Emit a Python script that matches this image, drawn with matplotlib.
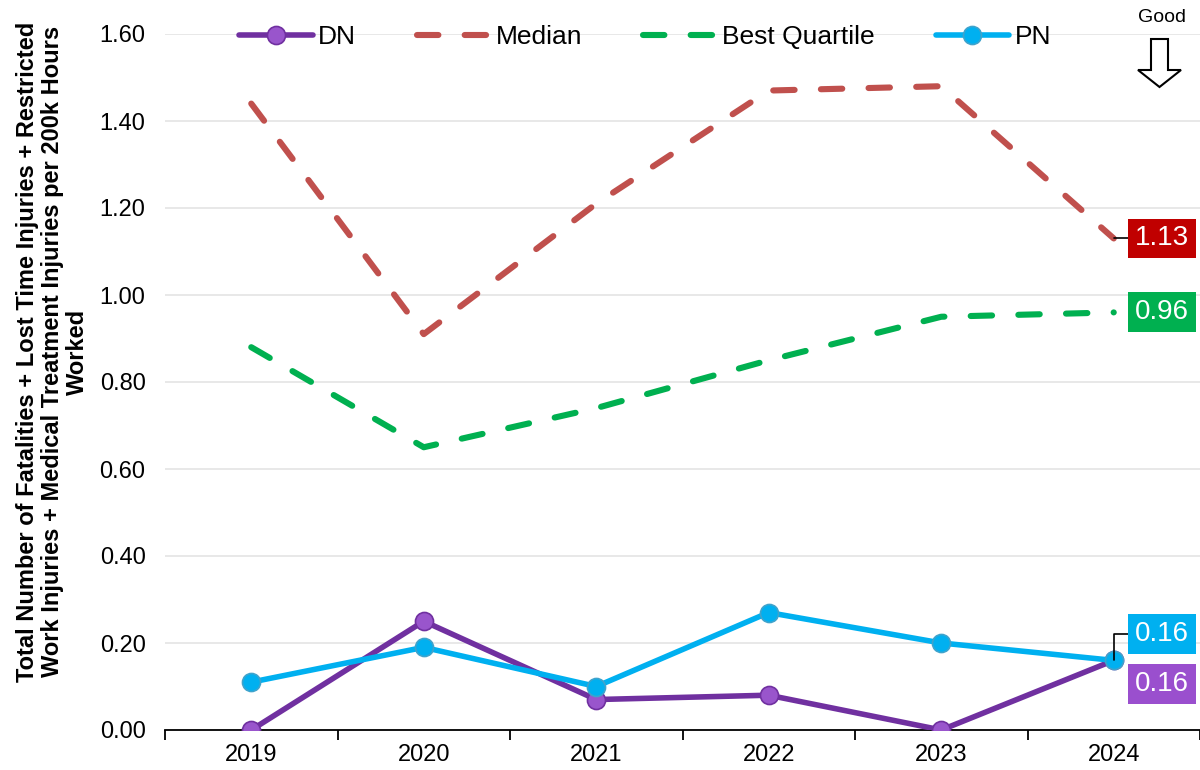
import matplotlib
matplotlib.use("Agg")
import matplotlib.pyplot as plt
from matplotlib.patches import Polygon
from matplotlib.transforms import IdentityTransform

plt.rcParams['font.family'] = ['Liberation Sans', 'DejaVu Sans']

years = ["2019", "2020", "2021", "2022", "2023", "2024"]
dn = [0.00, 0.25, 0.07, 0.08, 0.00, 0.16]
median = [1.44, 0.91, 1.21, 1.47, 1.48, 1.13]
best_quartile = [0.88, 0.65, 0.74, 0.85, 0.95, 0.96]
pn = [0.11, 0.19, 0.10, 0.27, 0.20, 0.16]
yticks = [0.0, 0.2, 0.4, 0.6, 0.8, 1.0, 1.2, 1.4, 1.6]

W, H = 1200, 770
fig = plt.figure(figsize=(W / 100, H / 100), dpi=100)
ax = fig.add_axes([165 / W, 40 / H, 1 - 165 / W, 696 / H])

x = list(range(len(years)))

ax.plot(x, median, color='#C0504D', lw=4.4, linestyle=(0, (3.5, 4.3)),
        dash_capstyle='round', solid_capstyle='round', label='Median', zorder=3)
ax.plot(x, best_quartile, color='#00B050', lw=4.4, linestyle=(0, (3.5, 4.3)),
        dash_capstyle='round', solid_capstyle='round', label='Best Quartile', zorder=3)
ax.plot(x, dn, color='#7030A0', lw=4.0, marker='o', markersize=13,
        markerfacecolor='#9955CC', markeredgecolor='#7030A0', markeredgewidth=1.2,
        solid_capstyle='round', label='DN', zorder=4)
ax.plot(x, pn, color='#00B0F0', lw=4.0, marker='o', markersize=13,
        markerfacecolor='#00B0F0', markeredgecolor='#3FA3CC', markeredgewidth=1.2,
        solid_capstyle='round', label='PN', zorder=5)

ax.set_xlim(-0.5, len(years) - 0.5)
ax.set_ylim(0, 1.6)
ax.set_yticks(yticks)
ax.set_yticklabels([f"{v:.2f}" for v in yticks], fontsize=17)
ax.tick_params(axis='y', length=0, pad=14)
ax.yaxis.grid(True, color='#E6E6E6', lw=1.3)
ax.set_axisbelow(True)

ax.set_xticks([i - 0.5 for i in range(len(years) + 1)])
ax.set_xticklabels([])
ax.set_xticks(x, minor=True)
ax.set_xticklabels(years, minor=True, fontsize=17)
ax.tick_params(axis='x', which='major', length=7, width=1.3, direction='out', color='black')
ax.tick_params(axis='x', which='minor', length=0, pad=10)

for s in ['top', 'right', 'left']:
    ax.spines[s].set_visible(False)
ax.spines['bottom'].set_color('black')
ax.spines['bottom'].set_linewidth(1.3)

fig.text(0.044, 0.543,
         "Total Number of Fatalities + Lost Time Injuries + Restricted\n"
         "Work Injuries + Medical Treatment Injuries per 200k Hours\nWorked",
         rotation=90, ha='center', va='center', multialignment='center',
         fontsize=17, fontweight='bold', linespacing=1.1)

handles, labels = ax.get_legend_handles_labels()
order = [labels.index(n) for n in ['DN', 'Median', 'Best Quartile', 'PN']]
fig.legend([handles[i] for i in order], [labels[i] for i in order],
           loc='center', bbox_to_anchor=(645 / W, 1 - 37 / H), ncol=4,
           frameon=False, fontsize=19, handlelength=2.8, handletextpad=0.2,
           columnspacing=2.3)

# value labels
last = len(years) - 1
def lab(val, color, dy, leader):
    kw = {}
    if leader:
        kw['arrowprops'] = dict(arrowstyle='-', color='black', lw=1.2,
                                connectionstyle='angle,angleA=0,angleB=90,rad=0',
                                shrinkA=0, shrinkB=0)
    ax.annotate(f"{val:.2f}", xy=(last, val), xytext=(48, dy),
                textcoords='offset pixels', ha='center', va='center',
                fontsize=20, color='white', zorder=10, annotation_clip=False,
                bbox=dict(boxstyle='square,pad=0.25', fc=color, ec='none'), **kw)

lab(median[last], '#C00000', 0, True)
lab(best_quartile[last], '#00B050', 0, False)
lab(pn[last], '#00B0F0', 26, True)
lab(dn[last], '#9A4FCE', -24, False)

# "Good" indicator
fig.text(1162 / W, 1 - 18 / H, "Good", ha='center', va='center', fontsize=14)
pts = [(1151, 39), (1168, 39), (1168, 70), (1181, 70), (1159.5, 87),
       (1138, 70), (1151, 70)]
arrow = Polygon([(px, H - py) for px, py in pts], closed=True, fc='white',
                ec='black', lw=1.5, transform=IdentityTransform())
fig.patches.append(arrow)
arrow.set_figure(fig)

fig.savefig("out.png", dpi=100)
